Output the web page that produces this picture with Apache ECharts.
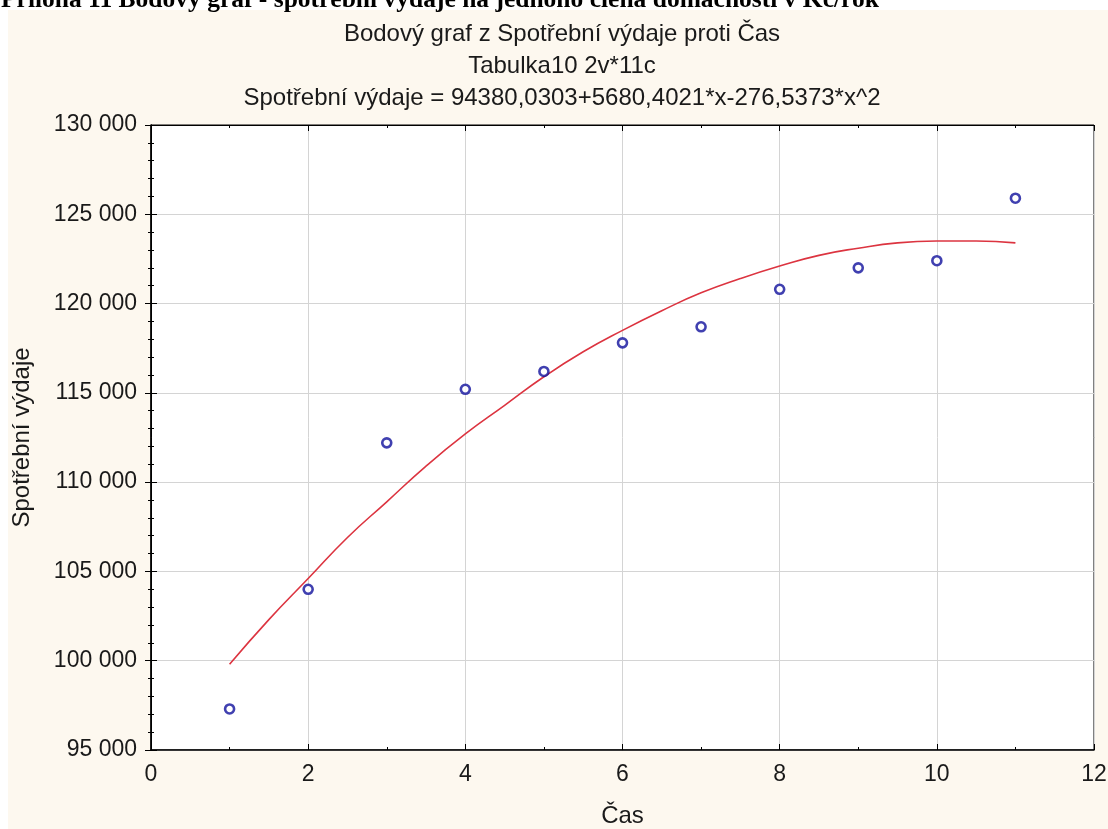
<!DOCTYPE html>
<html>
<head>
<meta charset="utf-8">
<script src="https://cdn.jsdelivr.net/npm/echarts@6/dist/echarts.min.js"></script>
<style>
  html, body { margin: 0; padding: 0; background: #fff; }
  #page { position: relative; width: 1108px; height: 829px; overflow: hidden; background: #fff; }
  #head { position: absolute; left: 1px; top: -14px; z-index: 2; white-space: nowrap;
          font: bold 25.5px/1 "Liberation Serif", "DejaVu Serif", serif; color: #000; }
  #chart { position: absolute; left: 8px; top: 10px; width: 1100px; height: 819px; }
</style>
</head>
<body>
<div id="page">
  <div id="head">Příloha 11 Bodový graf - spotřební výdaje na jednoho člena domácnosti v Kč/rok</div>
  <div id="chart"></div>
</div>
<script>
// pozorovane hodnoty
var cas = [1, 2, 3, 4, 5, 6, 7, 8, 9, 10, 11];
var vydaje = [97300, 104000, 112200, 115200, 116200, 117800, 118700, 120800, 122000, 122400, 125900];

// body prolozene krivky
var krivkaX = [1, 1.5, 2, 2.5, 3, 3.5, 4, 4.5, 5, 5.5, 6, 6.5, 7, 7.5, 8, 8.5, 9, 9.5, 10, 10.5, 11];
var krivkaY = [99800, 102300, 104600, 106900, 108900, 110900, 112700, 114300, 115900, 117300, 118500,
               119600, 120600, 121400, 122100, 122700, 123100, 123400, 123500, 123500, 123400];

var titulky = [
  "Bodový graf z Spotřební výdaje proti Čas",
  "Tabulka10 2v*11c",
  "Spotřební výdaje = 94380,0303+5680,4021*x-276,5373*x^2"
];

var font = '"Liberation Sans", Arial, sans-serif';

function fmt(v) {
  return String(v).replace(/\B(?=(\d{3})+(?!\d))/g, " ");
}

var chart = echarts.init(document.getElementById("chart"));

var tick = { show: true, inside: true, length: 6, lineStyle: { color: "#000" } };
var minor = { show: true, length: 3, lineStyle: { color: "#000" } };

chart.setOption({
  animation: false,
  backgroundColor: "#fdf8ef",
  title: {
    text: titulky.join("\n"),
    left: 549,
    top: 3,
    textAlign: "center",
    textStyle: { fontFamily: font, fontSize: 24, fontWeight: "normal", color: "#1a1a1a", lineHeight: 32 }
  },
  grid: {
    left: 143, right: 14, top: 115, bottom: 79,
    outerBoundsMode: "none",
    show: true, backgroundColor: "#fff", borderColor: "#000", borderWidth: 1
  },
  xAxis: [{
    type: "value", min: 0, max: 12, interval: 2,
    name: "Čas", nameLocation: "middle", nameGap: 54,
    nameTextStyle: { fontFamily: font, fontSize: 24, color: "#1a1a1a" },
    axisLine: { show: true, onZero: false, lineStyle: { color: "#000", width: 1.5 } },
    axisTick: tick,
    minorTick: Object.assign({ splitNumber: 2 }, minor),
    axisLabel: { fontFamily: font, fontSize: 23, color: "#1a1a1a", margin: 13 },
    splitLine: { show: true, lineStyle: { color: "#d4d4d4" } }
  }, {
    type: "value", min: 0, max: 12, interval: 2, position: "top",
    axisLine: { show: true, lineStyle: { color: "#000" } },
    axisTick: tick,
    minorTick: Object.assign({ splitNumber: 2 }, minor),
    axisLabel: { show: false },
    splitLine: { show: false }
  }],
  yAxis: [{
    type: "value", min: 95000, max: 130000, interval: 5000,
    name: "Spotřební výdaje", nameLocation: "middle", nameGap: 117,
    nameTextStyle: { fontFamily: font, fontSize: 24, color: "#1a1a1a" },
    axisLine: { show: true, onZero: false, lineStyle: { color: "#000", width: 1.5 } },
    axisTick: tick,
    minorTick: Object.assign({ splitNumber: 5 }, minor),
    axisLabel: { fontFamily: font, fontSize: 23, color: "#1a1a1a", margin: 14, formatter: fmt },
    splitLine: { show: true, lineStyle: { color: "#d4d4d4" } }
  }, {
    type: "value", min: 95000, max: 130000, interval: 5000, position: "right",
    axisLine: { show: true, lineStyle: { color: "#000" } },
    axisTick: tick,
    minorTick: Object.assign({ splitNumber: 5 }, minor),
    axisLabel: { show: false },
    splitLine: { show: false }
  }],
  series: [{
    name: "fit",
    type: "line",
    smooth: true,
    showSymbol: false,
    data: krivkaX.map(function (x, i) { return [x, krivkaY[i]]; }),
    lineStyle: { color: "#dc3440", width: 1.6 },
    itemStyle: { color: "#dc3440" },
    z: 2
  }, {
    name: "Spotřební výdaje",
    type: "scatter",
    symbol: "circle",
    symbolSize: 9,
    data: cas.map(function (x, i) { return [x, vydaje[i]]; }),
    itemStyle: { color: "#fff", borderColor: "#10109c", borderWidth: 2.6 },
    z: 3
  }]
});
</script>
</body>
</html>
